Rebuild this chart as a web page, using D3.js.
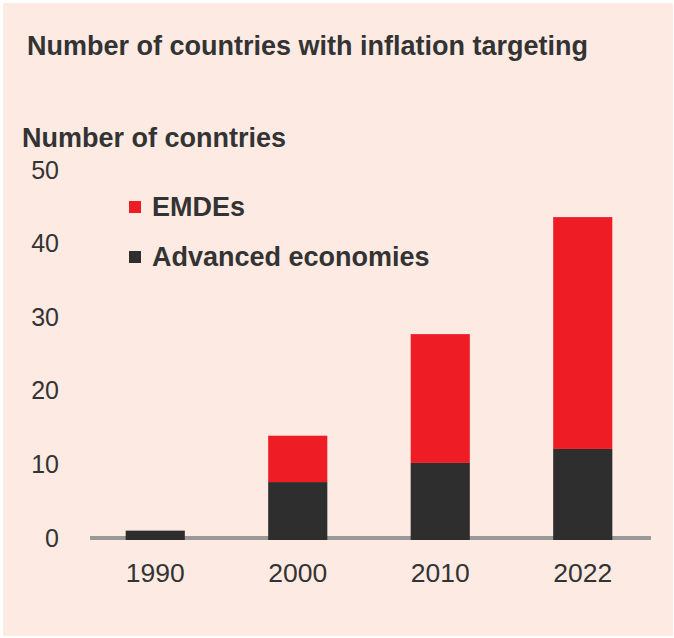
<!DOCTYPE html>
<html>
<head>
<meta charset="utf-8">
<script src="https://cdn.jsdelivr.net/npm/d3@7"></script>
<style>
  html, body { margin: 0; padding: 0; background: #ffffff; }
  svg { display: block; font-family: "Liberation Sans", Arial, sans-serif; }
</style>
</head>
<body>
<div id="chart"></div>
<script>
// data
var years = ["1990", "2000", "2010", "2022"];
var advanced = [1, 7.6, 10.2, 12.1];
var emdes = [0, 6.3, 17.5, 31.5];
var yTicks = [0, 10, 20, 30, 40, 50];
var seriesNames = ["EMDEs", "Advanced economies"];
var seriesColors = ["#ee1c25", "#2e2e2e"];

var width = 674, height = 638;

var svg = d3.select("#chart").append("svg")
            .attr("width", width)
            .attr("height", height);

// peach panel
svg.append("rect")
   .attr("x", 3)
   .attr("y", 3)
   .attr("width", width - 4)
   .attr("height", height - 5)
   .style("fill", "#fdebe3");

svg.append("text")
   .attr("x", 27)
   .attr("y", 55)
   .attr("font-size", "27px")
   .attr("font-weight", "bold")
   .style("fill", "#333333")
   .text("Number of countries with inflation targeting");

svg.append("text")
   .attr("x", 22)
   .attr("y", 147)
   .attr("font-size", "27px")
   .attr("font-weight", "bold")
   .style("fill", "#333333")
   .text("Number of conntries");

var x = d3.scaleBand()
          .domain(years)
          .range([84, 654])
          .paddingInner(0.585)
          .paddingOuter(0.2925);

var y = d3.scaleLinear()
          .domain([0, 50])
          .range([538, 170]);

// tick labels on the left, no axis line
var yAxis = d3.axisLeft(y)
              .tickValues(yTicks)
              .tickSize(0)
              .tickPadding(0);
var yGroup = svg.append("g")
                .attr("transform", "translate(59,0)")
                .call(yAxis);
yGroup.select(".domain").remove();
yGroup.selectAll("text")
      .attr("font-size", "25px")
      .attr("font-family", "Liberation Sans, Arial, sans-serif")
      .style("fill", "#333333");

// baseline
svg.append("line")
   .attr("x1", 90)
   .attr("x2", 651)
   .attr("y1", y(0))
   .attr("y2", y(0))
   .style("stroke", "#999999")
   .style("stroke-width", 4);

var stackData = years.map(function(yr, i) {
    return { year: yr, adv: advanced[i], emde: emdes[i] };
});
var stack = d3.stack().keys(["adv", "emde"]);
var layers = stack(stackData);
var layerColors = { adv: seriesColors[1], emde: seriesColors[0] };

svg.selectAll(".layer")
   .data(layers)
   .enter().append("g")
      .attr("class", "layer")
      .style("fill", function(d) { return layerColors[d.key]; })
   .selectAll("rect")
   .data(function(d) { return d; })
   .enter().append("rect")
      .attr("x", function(d) { return x(d.data.year); })
      .attr("width", x.bandwidth())
      .attr("y", function(d) { return y(d[1]); })
      .attr("height", function(d) {
          // bottom layer sits over the thick baseline
          var extra = d[0] === 0 ? 2 : 0;
          return Math.max(0, y(d[0]) - y(d[1]) + extra);
      });

// year labels
var xAxis = d3.axisBottom(x).tickSize(0).tickPadding(0);
var xGroup = svg.append("g")
                .attr("transform", "translate(0,563)")
                .call(xAxis);
xGroup.select(".domain").remove();
xGroup.selectAll("text")
      .attr("dy", "0.71em")
      .attr("font-size", "26.5px")
      .attr("font-family", "Liberation Sans, Arial, sans-serif")
      .style("fill", "#333333");

// legend
var legend = svg.append("g").attr("class", "legend");
var legendRows = legend.selectAll("g")
                       .data(seriesNames)
                       .enter().append("g")
                       .attr("transform", function(d, i) {
                           return "translate(129," + (201 + i * 50) + ")";
                       });
legendRows.append("rect")
          .attr("width", 12)
          .attr("height", 12)
          .style("fill", function(d, i) { return seriesColors[i]; });
legendRows.append("text")
          .attr("x", 23)
          .attr("y", 15)
          .attr("font-size", "27px")
          .attr("font-weight", "bold")
          .style("fill", "#333333")
          .text(function(d) { return d; });
</script>
</body>
</html>
